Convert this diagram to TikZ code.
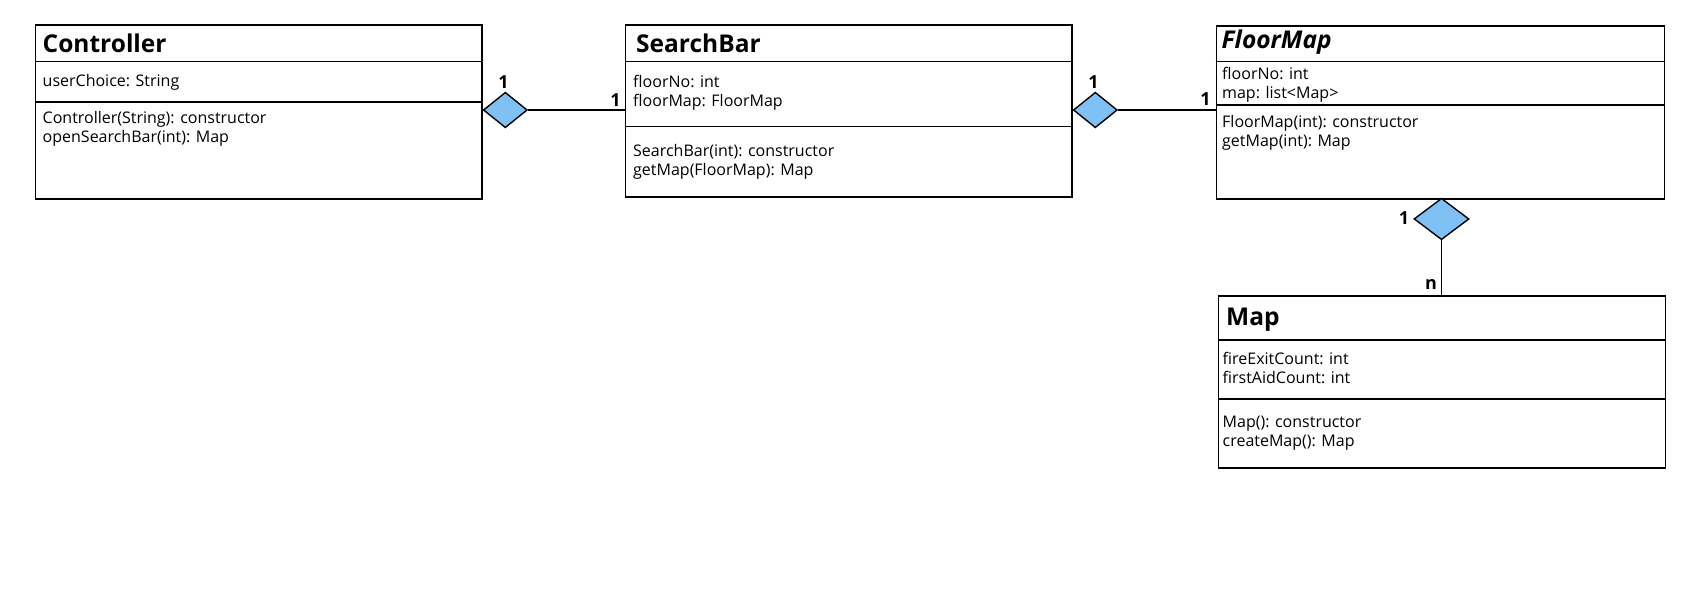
\documentclass[tikz,border=0pt]{standalone}
\usepackage{fontspec}
\setmainfont{Open Sans}
\usetikzlibrary{shapes.geometric}
\definecolor{aggblue}{RGB}{127,192,245}
\begin{document}
\begin{tikzpicture}[x=1pt,y=-1pt,
  classbox/.style={draw=black, line width=1.6pt, rectangle, inner sep=0pt, anchor=north west},
  divider/.style={draw=black, line width=1.6pt},
  classtitle/.style={font=\fontsize{24.5}{28}\selectfont\bfseries, anchor=west, inner sep=0pt},
  member/.style={font=\fontsize{16}{18.8}\selectfont, align=left, anchor=west, inner sep=0pt},
  agg/.style={diamond, draw=black, fill=aggblue, line width=1.4pt, inner sep=0pt},
  mult/.style={font=\fontsize{18}{20}\selectfont\bfseries, inner sep=0pt},
  assoc/.style={draw=black, line width=1.4pt}]
\useasboundingbox (0,0) rectangle (1694,597);

% Controller
\node[classbox, minimum width=446.5pt, minimum height=174pt] (ctrl) at (34.5,24) {};
\draw[divider] (ctrl.west |- 0,61.5) -- (ctrl.east |- 0,61.5);
\draw[divider] (ctrl.west |- 0,102) -- (ctrl.east |- 0,102);
\node[classtitle] (ctrlT) at (42.5,43) {Controller};
\node[member] (ctrlA) at (42.5,82) {userChoice: String};
\node[member] (ctrlM) at (42.5,129) {Controller(String): constructor\\openSearchBar(int): Map};

% SearchBar
\node[classbox, minimum width=446.5pt, minimum height=172pt] (sb) at (624.5,24) {};
\draw[divider] (sb.west |- 0,61.5) -- (sb.east |- 0,61.5);
\draw[divider] (sb.west |- 0,126.5) -- (sb.east |- 0,126.5);
\node[classtitle] (sbT) at (636,43) {SearchBar};
\node[member] (sbA) at (633,93) {floorNo: int\\floorMap: FloorMap};
\node[member] (sbM) at (633,162) {SearchBar(int): constructor\\getMap(FloorMap): Map};

% FloorMap
\node[classbox, minimum width=448pt, minimum height=173pt] (fm) at (1215.5,25) {};
\draw[divider] (fm.west |- 0,61.5) -- (fm.east |- 0,61.5);
\draw[divider] (fm.west |- 0,105) -- (fm.east |- 0,105);
\node[classtitle, font=\fontsize{24.5}{28}\selectfont\bfseries\itshape] (fmT) at (1221.5,42.5) {FloorMap};
\node[member] (fmA) at (1222,85) {floorNo: int\\map: list<Map>};
\node[member] (fmM) at (1222,133) {FloorMap(int): constructor\\getMap(int): Map};

% Map
\node[classbox, minimum width=447pt, minimum height=172pt] (map) at (1217.5,295) {};
\draw[divider] (map.west |- 0,340) -- (map.east |- 0,340);
\draw[divider] (map.west |- 0,399) -- (map.east |- 0,399);
\node[classtitle] (mapT) at (1226,319.5) {Map};
\node[member] (mapA) at (1222.5,368) {fireExitCount: int\\firstAidCount: int};
\node[member] (mapM) at (1222.5,433) {Map(): constructor\\createMap(): Map};

% aggregations
\node[agg, anchor=west, minimum width=44pt, minimum height=35.5pt] (d1) at (ctrl.east |- 0,110) {};
\node[agg, anchor=west, minimum width=44pt, minimum height=35.5pt] (d2) at (sb.east |- 0,110) {};
\node[agg, anchor=north, minimum width=55pt, minimum height=41.5pt] (d3) at (1441.5,197.5) {};
\draw[assoc] (d1.east) -- (d1.east -| sb.west);
\draw[assoc] (d2.east) -- (d2.east -| fm.west);
\draw[assoc] (d3.south) -- (d3.south |- map.north);

% multiplicities
\node[mult] (m1) at (503.5,82.5) {1};
\node[mult] (m2) at (615.5,100) {1};
\node[mult] (m3) at (1093.5,82.5) {1};
\node[mult] (m4) at (1205.5,99.5) {1};
\node[mult] (m5) at (1404,218.5) {1};
\node[mult] (m6) at (1431,284.5) {n};
\end{tikzpicture}
\end{document}
